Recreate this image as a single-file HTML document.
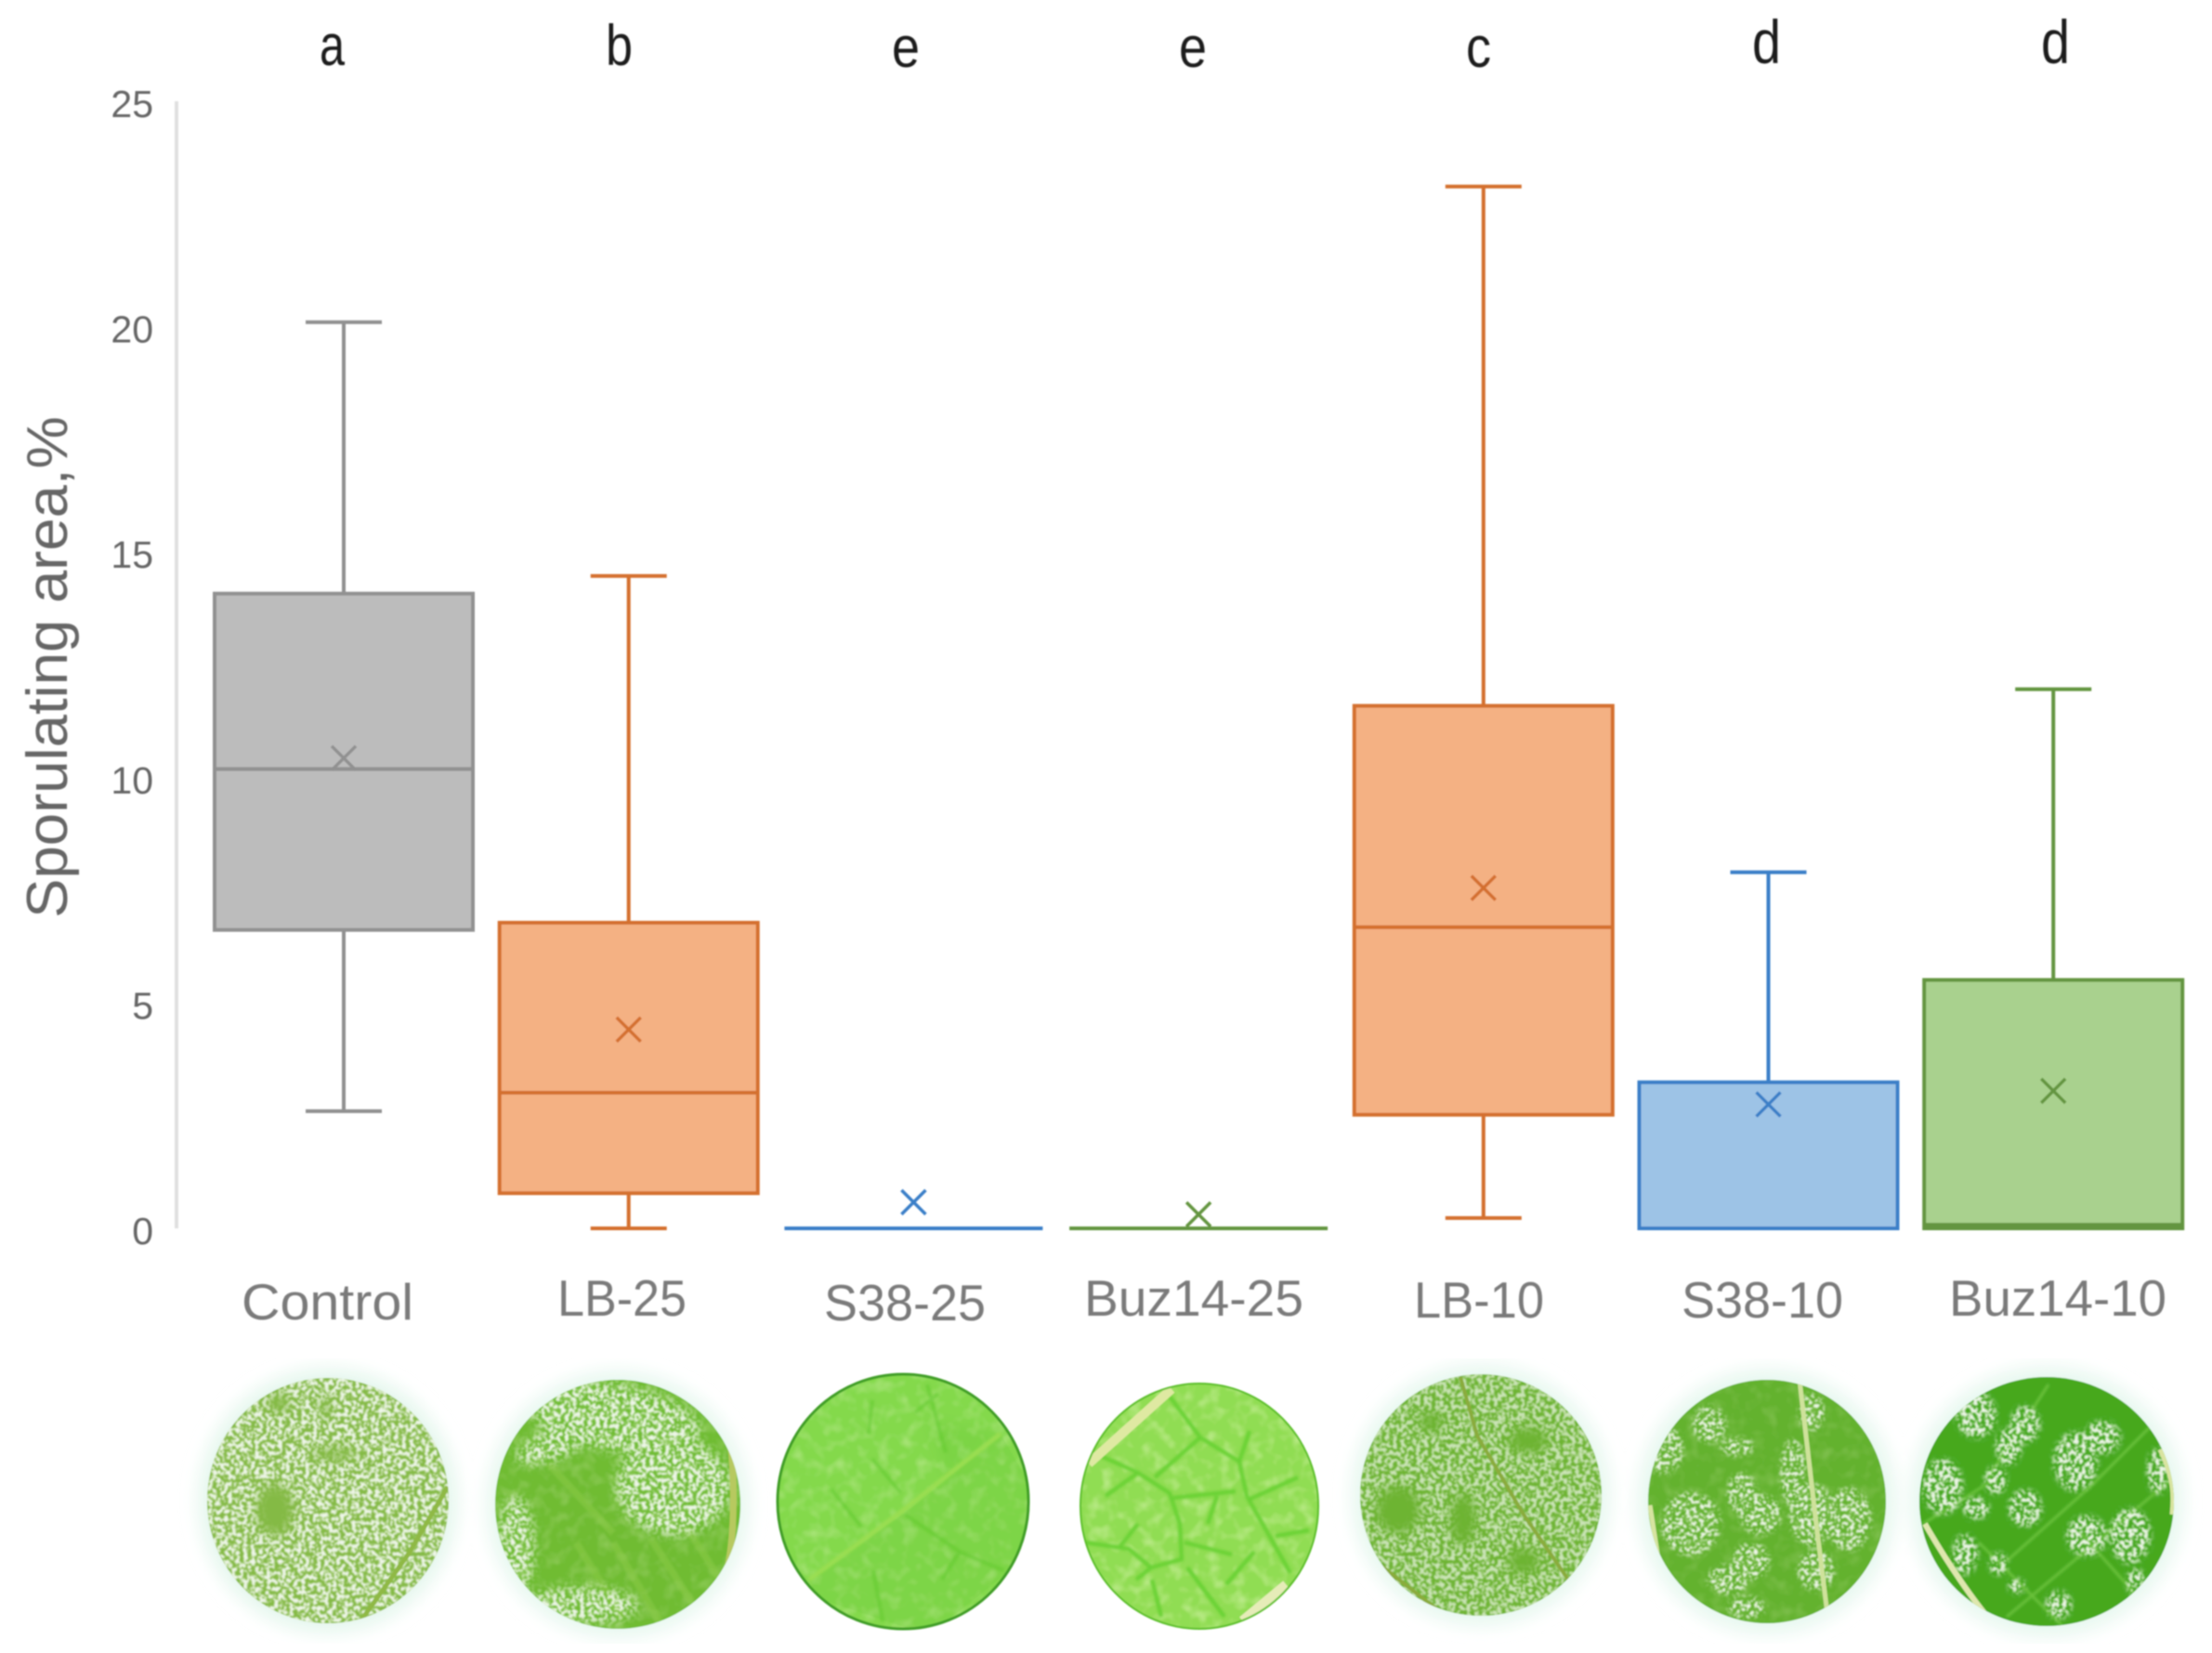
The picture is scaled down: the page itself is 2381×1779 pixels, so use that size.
<!DOCTYPE html>
<html lang="en">
<head>
<meta charset="utf-8">
<title>Sporulating area box plot</title>
<style>
html,body{margin:0;padding:0;background:#fff}
svg{display:block}
text{font-family:"Liberation Sans",sans-serif}
</style>
</head>
<body>
<svg id="chart" xmlns="http://www.w3.org/2000/svg" width="2381" height="1779" viewBox="0 0 2381 1779">
<defs>
<filter id="soft" x="-5%" y="-5%" width="110%" height="110%"><feGaussianBlur stdDeviation="0.9"/></filter>
<filter id="softbig" x="-2%" y="-2%" width="104%" height="104%"><feGaussianBlur stdDeviation="0.8"/></filter>
<filter id="veinblur" x="-5%" y="-5%" width="110%" height="110%"><feGaussianBlur stdDeviation="1.3"/></filter>
<filter id="halo" x="-20%" y="-20%" width="140%" height="140%"><feGaussianBlur stdDeviation="9"/></filter>
<filter id="bl" x="-30%" y="-30%" width="160%" height="160%"><feGaussianBlur stdDeviation="6"/></filter>
<filter id="bl3" x="-50%" y="-50%" width="200%" height="200%"><feGaussianBlur stdDeviation="3"/></filter>
<filter id="mottle" x="0" y="0" width="100%" height="100%">
<feTurbulence type="fractalNoise" baseFrequency="0.07" numOctaves="2" seed="5"/>
<feColorMatrix values="0 0 0 0 1  0 0 0 0 1  0 0 0 0 0.75  1.6 0 0 0 -0.72"/>
</filter>
<filter id="speckDense" x="0" y="0" width="100%" height="100%">
<feTurbulence type="fractalNoise" baseFrequency="0.24" numOctaves="2" seed="3"/>
<feColorMatrix values="0 0 0 0 0.86  0 0 0 0 0.92  0 0 0 0 0.82  7 0 0 0 -3.1"/>
<feGaussianBlur stdDeviation="0.9"/>
</filter>
<filter id="speckMid" x="0" y="0" width="100%" height="100%">
<feTurbulence type="fractalNoise" baseFrequency="0.26" numOctaves="2" seed="11"/>
<feColorMatrix values="0 0 0 0 0.88  0 0 0 0 0.93  0 0 0 0 0.84  8 0 0 0 -3.9"/>
<feGaussianBlur stdDeviation="0.8"/>
</filter>
<filter id="speckSparse" x="0" y="0" width="100%" height="100%">
<feTurbulence type="fractalNoise" baseFrequency="0.28" numOctaves="2" seed="23"/>
<feColorMatrix values="0 0 0 0 0.90  0 0 0 0 0.95  0 0 0 0 0.86  9 0 0 0 -4.6"/>
<feGaussianBlur stdDeviation="0.7"/>
</filter>
<clipPath id="c1"><ellipse cx="353" cy="1615" rx="130" ry="132"/></clipPath>
<clipPath id="c2"><ellipse cx="665" cy="1619" rx="132" ry="134"/></clipPath>
<clipPath id="c3"><ellipse cx="972" cy="1616" rx="135" ry="137"/></clipPath>
<clipPath id="c4"><ellipse cx="1291" cy="1621" rx="128" ry="132"/></clipPath>
<clipPath id="c5"><ellipse cx="1594" cy="1609" rx="130" ry="130"/></clipPath>
<clipPath id="c6"><ellipse cx="1902" cy="1616" rx="128" ry="131"/></clipPath>
<clipPath id="c7"><ellipse cx="2203" cy="1616" rx="137" ry="134"/></clipPath>
<mask id="m1" maskUnits="userSpaceOnUse" x="200" y="1460" width="310" height="310">
<rect x="200" y="1460" width="310" height="310" fill="#fff"/>
<g filter="url(#bl)" fill="#000"><ellipse cx="296" cy="1625" rx="20" ry="28"/><ellipse cx="300" cy="1510" rx="12" ry="10"/><ellipse cx="360" cy="1565" rx="26" ry="6"/><ellipse cx="350" cy="1515" rx="5" ry="14"/></g>
</mask>
<mask id="m2" maskUnits="userSpaceOnUse" x="510" y="1460" width="310" height="310">
<g filter="url(#bl)" fill="#fff"><ellipse cx="660" cy="1525" rx="95" ry="36" transform="rotate(10 660 1525)"/><ellipse cx="725" cy="1600" rx="62" ry="52"/><ellipse cx="555" cy="1665" rx="20" ry="55"/><ellipse cx="625" cy="1728" rx="62" ry="20"/><ellipse cx="595" cy="1555" rx="42" ry="16" transform="rotate(-20 595 1555)"/></g>
</mask>
<mask id="m5" maskUnits="userSpaceOnUse" x="1440" y="1460" width="310" height="310">
<rect x="1440" y="1460" width="310" height="310" fill="#bbb"/>
<g filter="url(#bl)" fill="#000"><ellipse cx="1505" cy="1625" rx="24" ry="26"/><ellipse cx="1575" cy="1635" rx="14" ry="28"/><ellipse cx="1645" cy="1550" rx="22" ry="14"/><ellipse cx="1640" cy="1680" rx="18" ry="14"/><ellipse cx="1540" cy="1530" rx="14" ry="10"/></g>
</mask>
<mask id="m6" maskUnits="userSpaceOnUse" x="1750" y="1460" width="310" height="310">
<g filter="url(#bl3)" fill="#fff"><ellipse cx="1840" cy="1533" rx="18" ry="20"/><ellipse cx="1950" cy="1520" rx="14" ry="20"/><ellipse cx="1790" cy="1560" rx="22" ry="26"/><ellipse cx="1870" cy="1557" rx="18" ry="10"/><ellipse cx="1930" cy="1585" rx="14" ry="36"/><ellipse cx="1875" cy="1607" rx="16" ry="22"/><ellipse cx="1895" cy="1630" rx="22" ry="22"/><ellipse cx="1950" cy="1630" rx="24" ry="34"/><ellipse cx="1990" cy="1635" rx="24" ry="34"/><ellipse cx="1820" cy="1640" rx="32" ry="34"/><ellipse cx="1955" cy="1690" rx="20" ry="22"/><ellipse cx="1885" cy="1680" rx="20" ry="20"/><ellipse cx="1860" cy="1700" rx="22" ry="16"/><ellipse cx="1880" cy="1730" rx="20" ry="12"/></g>
</mask>
<mask id="m7" maskUnits="userSpaceOnUse" x="2050" y="1460" width="310" height="310">
<g filter="url(#bl3)" fill="#fff"><ellipse cx="2127" cy="1523" rx="22" ry="25"/><ellipse cx="2180" cy="1533" rx="16" ry="20"/><ellipse cx="2162" cy="1557" rx="14" ry="20"/><ellipse cx="2263" cy="1547" rx="20" ry="18"/><ellipse cx="2234" cy="1573" rx="24" ry="32"/><ellipse cx="2091" cy="1600" rx="22" ry="30"/><ellipse cx="2148" cy="1593" rx="12" ry="15"/><ellipse cx="2127" cy="1623" rx="14" ry="12"/><ellipse cx="2180" cy="1623" rx="18" ry="20"/><ellipse cx="2246" cy="1653" rx="22" ry="22"/><ellipse cx="2293" cy="1653" rx="22" ry="30"/><ellipse cx="2115" cy="1673" rx="14" ry="22"/><ellipse cx="2151" cy="1683" rx="10" ry="12"/><ellipse cx="2323" cy="1583" rx="12" ry="25"/><ellipse cx="2216" cy="1727" rx="14" ry="15"/><ellipse cx="2299" cy="1703" rx="10" ry="15"/><ellipse cx="2171" cy="1707" rx="9" ry="8"/></g>
</mask>
</defs>

<!-- Leaf discs -->
<g filter="url(#softbig)">
<g>
<ellipse cx="353" cy="1615" rx="140" ry="143" fill="#e6f7ee" filter="url(#halo)"/>
<ellipse cx="353" cy="1615" rx="130" ry="132" fill="#84ba44"/>
<g clip-path="url(#c1)">
<g mask="url(#m1)"><rect x="215" y="1475" width="280" height="280" fill="#fff" filter="url(#speckDense)"/></g>
<path d="M388 1745 L440 1672 L482 1600" fill="none" stroke="#8fb945" stroke-width="5"/>
</g>
</g>
<g>
<ellipse cx="665" cy="1619" rx="142" ry="144" fill="#e8f8f0" filter="url(#halo)"/>
<ellipse cx="665" cy="1619" rx="132" ry="134" fill="#6fbc32"/>
<g clip-path="url(#c2)">
<rect x="530" y="1480" width="270" height="280" fill="#a4d468" opacity=".3" filter="url(#mottle)"/>
<path d="M590 1575 L660 1650 M620 1660 L670 1740 M660 1660 L710 1745 M700 1655 L745 1725 M740 1645 L775 1700" stroke="#8ccb4a" stroke-width="8" fill="none" opacity=".55" filter="url(#veinblur)"/>
<g mask="url(#m2)"><rect x="525" y="1478" width="280" height="280" fill="#fff" filter="url(#speckDense)"/></g>
<path d="M783 1530 C792 1580 792 1660 780 1700" fill="none" stroke="#b7c95f" stroke-width="7"/>
</g>
</g>
<g>
<ellipse cx="972" cy="1616" rx="135" ry="137" fill="#84d94c"/>
<g clip-path="url(#c3)">
<rect x="835" y="1478" width="275" height="278" fill="#b5ec7a" opacity=".4" filter="url(#mottle)"/>
<path d="M871 1700 L985 1620 L1077 1543 L1110 1600 L1100 1680 L1000 1760 L880 1720 Z" fill="#5cc42a" opacity=".18"/>
<path d="M1000 1530 L1077 1543 L1020 1590 Z" fill="#55c024" opacity=".18" filter="url(#bl)"/>
<g fill="none" stroke="#62c92e" stroke-width="4" opacity=".6" filter="url(#veinblur)">
<path d="M998 1490 L1018 1563 M939 1507 L935 1543 M939 1570 L970 1607 M895 1603 L927 1643 M974 1630 L1033 1670 L1014 1700 M940 1690 L950 1745 M1033 1670 L1080 1690 M985 1520 L1010 1500"/>
</g>
<path d="M871 1700 L970 1627 L1077 1543" fill="none" stroke="#9ade51" stroke-width="5" filter="url(#veinblur)"/>
</g>
<ellipse cx="972" cy="1616" rx="135" ry="137" fill="none" stroke="#3f9e27" stroke-width="3"/>
</g>
<g>
<ellipse cx="1291" cy="1621" rx="128" ry="132" fill="#90dd52"/>
<g clip-path="url(#c4)">
<rect x="1160" y="1485" width="262" height="272" fill="#c4f28b" opacity=".55" filter="url(#mottle)"/>
<g fill="none" stroke="#6ad234" stroke-width="4.5" filter="url(#veinblur)">
<path d="M1176 1563 L1225 1585 L1259 1607 L1270 1640 L1272 1680 M1263 1612 L1330 1605 M1259 1503 L1292 1547 L1334 1573 L1342 1610 L1389 1693 M1346 1613 L1397 1590 M1168 1660 L1215 1667 L1239 1687 L1272 1678 M1239 1687 L1223 1700 M1278 1687 L1318 1740 M1275 1660 L1326 1673 M1292 1547 L1243 1590 M1373 1653 L1409 1647 M1190 1610 L1225 1585 M1225 1640 L1205 1665 M1300 1640 L1310 1610 M1345 1540 L1334 1573 M1350 1670 L1320 1705 M1240 1700 L1250 1740"/>
</g>
<path d="M1172 1575 L1261 1495" fill="none" stroke="#dfe9a2" stroke-width="10"/>
<path d="M1338 1745 L1385 1706" fill="none" stroke="#e6ecb8" stroke-width="12"/>
</g>
<ellipse cx="1291" cy="1621" rx="128" ry="132" fill="none" stroke="#5cbf2c" stroke-width="2"/>
</g>
<g>
<ellipse cx="1594" cy="1609" rx="140" ry="141" fill="#e8f8f0" filter="url(#halo)"/>
<ellipse cx="1594" cy="1609" rx="130" ry="130" fill="#6db432"/>
<g clip-path="url(#c5)">
<g mask="url(#m5)"><rect x="1460" y="1475" width="270" height="270" fill="#fff" filter="url(#speckDense)"/></g>
<path d="M1572 1482 L1590 1545 L1640 1630 L1712 1735 M1480 1680 L1570 1750" fill="none" stroke="#8aac3c" stroke-width="4"/>
</g>
</g>
<g>
<ellipse cx="1902" cy="1616" rx="140" ry="143" fill="#e8f8f0" filter="url(#halo)"/>
<ellipse cx="1902" cy="1616" rx="128" ry="131" fill="#63b22e"/>
<g clip-path="url(#c6)">
<rect x="1770" y="1480" width="265" height="270" fill="#8fd053" opacity=".22" filter="url(#mottle)"/>
<g mask="url(#m6)"><rect x="1770" y="1480" width="265" height="270" fill="#fff" filter="url(#speckMid)"/></g>
<path d="M1937 1485 L1955 1640 L1968 1745" fill="none" stroke="#cfe29b" stroke-width="5"/>
<path d="M1776 1620 L1790 1710" fill="none" stroke="#d7e4a0" stroke-width="5"/>
</g>
</g>
<g>
<ellipse cx="2203" cy="1616" rx="148" ry="146" fill="#e8f8f0" filter="url(#halo)"/>
<ellipse cx="2203" cy="1616" rx="137" ry="134" fill="#46a81f"/>
<g clip-path="url(#c7)">
<g fill="none" stroke="#6bc13a" stroke-width="3" filter="url(#veinblur)">
<path d="M2140 1590 L2205 1490 M2070 1640 L2150 1590 M2160 1680 L2250 1600 L2320 1530 M2160 1740 L2280 1640 L2340 1590 M2130 1660 L2220 1750 M2240 1650 L2320 1740"/>
</g>
<g mask="url(#m7)"><rect x="2060" y="1478" width="285" height="275" fill="#fff" filter="url(#speckDense)"/></g>
<path d="M2072 1640 C2095 1680 2125 1725 2148 1750" fill="none" stroke="#dfe7ae" stroke-width="6"/>
<path d="M2325 1560 C2340 1590 2340 1610 2338 1630" fill="none" stroke="#d9e4a0" stroke-width="5"/>
</g>
</g>
</g>

<!-- Static labels -->
<g filter="url(#soft)" fill="#1f1f1f" font-size="62">
<text x="344" y="70" textLength="27" lengthAdjust="spacingAndGlyphs">a</text>
<text x="652" y="70" textLength="29" lengthAdjust="spacingAndGlyphs">b</text>
<text x="960" y="72" textLength="30" lengthAdjust="spacingAndGlyphs">e</text>
<text x="1269" y="72" textLength="30" lengthAdjust="spacingAndGlyphs">e</text>
<text x="1578" y="72" textLength="27" lengthAdjust="spacingAndGlyphs">c</text>
<text x="1886" y="68" textLength="31" lengthAdjust="spacingAndGlyphs" font-size="66">d</text>
<text x="2197" y="68" textLength="31" lengthAdjust="spacingAndGlyphs" font-size="66">d</text>
</g>
<g filter="url(#soft)" fill="#7a7a7a" font-size="55">
<text x="260" y="1420" textLength="185" lengthAdjust="spacingAndGlyphs">Control</text>
<text x="600" y="1416" textLength="139" lengthAdjust="spacingAndGlyphs">LB-25</text>
<text x="887" y="1421" textLength="174" lengthAdjust="spacingAndGlyphs">S38-25</text>
<text x="1167" y="1416" textLength="236" lengthAdjust="spacingAndGlyphs">Buz14-25</text>
<text x="1522" y="1418" textLength="140" lengthAdjust="spacingAndGlyphs">LB-10</text>
<text x="1810" y="1418" textLength="174" lengthAdjust="spacingAndGlyphs">S38-10</text>
<text x="2098" y="1416" textLength="234" lengthAdjust="spacingAndGlyphs">Buz14-10</text>
</g>
<text filter="url(#soft)" transform="translate(72 718) rotate(-90)" text-anchor="middle" font-size="62" fill="#666" textLength="540" lengthAdjust="spacingAndGlyphs">Sporulating area,%</text>

<g id="axis-layer" filter="url(#soft)"></g>
<g id="plot-layer" filter="url(#softbig)"></g>
</svg>

<script>
const categories = ['Control', 'LB-25', 'S38-25', 'Buz14-25', 'LB-10', 'S38-10', 'Buz14-10'];
const whiskerHigh = [20.10, 14.47, 0, 0, 23.11, 7.90, 11.96];
const quartile3 = [14.08, 6.78, 0, 0, 11.59, 3.24, 5.51];
const medians = [10.19, 3.01, 0, 0, 6.68, 0, 0.08];
const quartile1 = [6.62, 0.78, 0, 0, 2.52, 0, 0];
const whiskerLow = [2.60, 0, 0, 0, 0.23, 0, 0];
const means = [10.43, 4.41, 0.58, 0.31, 7.55, 2.75, 3.05];
const seriesKind = ['grey', 'orange', 'blue', 'green', 'orange', 'blue', 'green'];
const tickValues = [0, 5, 10, 15, 20, 25];
const tickLabels = ['0', '5', '10', '15', '20', '25'];

const palette = {
  grey: { fill: '#bcbcbc', stroke: '#919191' },
  orange: { fill: '#f4b183', stroke: '#d4702f' },
  blue: { fill: '#9dc3e6', stroke: '#3b7fc8' },
  green: { fill: '#a9d18e', stroke: '#64953f' }
};

const NS = 'http://www.w3.org/2000/svg';
const Y_ZERO = 1322, Y_TOP = 109, Y_MAX = 25;
const X_FIRST = 370, X_STEP = 306.7;
const BOX_W = 278, CAP_W = 82, MARK = 13;

function yScale(v) { return Y_ZERO - (v / Y_MAX) * (Y_ZERO - Y_TOP); }
function xScale(i) { return X_FIRST + X_STEP * i; }

function make(tag, props, parent) {
  const el = document.createElementNS(NS, tag);
  for (const k in props) el.setAttribute(k, props[k]);
  parent.appendChild(el);
  return el;
}

const axisLayer = document.getElementById('axis-layer');
const plotLayer = document.getElementById('plot-layer');

const axisLine = make('line', { x1: 190, x2: 190, y1: yScale(Y_MAX), y2: yScale(0), stroke: '#e0e0e0', 'stroke-width': 4 }, axisLayer);



tickValues.forEach(function (v, i) {
  const t = make('text', { x: 165, y: yScale(v) + 17, 'text-anchor': 'end', 'font-size': 41, fill: '#666' }, axisLayer);
  t.textContent = tickLabels[i];
  
  
});

categories.forEach(function (name, i) {
  const c = palette[seriesKind[i]];
  const x = xScale(i);
  const slug = name.toLowerCase();
  const g = make('g', { stroke: c.stroke, fill: 'none', 'stroke-width': 4 }, plotLayer);
  
  

  const upper = make('line', { x1: x, x2: x, y1: yScale(whiskerHigh[i]), y2: yScale(quartile3[i]) }, g);
  
  

  const lower = make('line', { x1: x, x2: x, y1: yScale(quartile1[i]), y2: yScale(whiskerLow[i]) }, g);
  
  

  const capHigh = make('line', { x1: x - CAP_W / 2, x2: x + CAP_W / 2, y1: yScale(whiskerHigh[i]), y2: yScale(whiskerHigh[i]) }, g);
  
  

  const capLow = make('line', { x1: x - CAP_W / 2, x2: x + CAP_W / 2, y1: yScale(whiskerLow[i]), y2: yScale(whiskerLow[i]) }, g);
  
  

  const box = make('rect', { x: x - BOX_W / 2, y: yScale(quartile3[i]), width: BOX_W, height: yScale(quartile1[i]) - yScale(quartile3[i]), fill: c.fill }, g);
  
  

  const med = make('line', { x1: x - BOX_W / 2, x2: x + BOX_W / 2, y1: yScale(medians[i]), y2: yScale(medians[i]) }, g);
  
  

  const my = yScale(means[i]);
  const mean = make('path', { d: 'M' + (x - MARK) + ' ' + (my - MARK) + 'L' + (x + MARK) + ' ' + (my + MARK) + 'M' + (x + MARK) + ' ' + (my - MARK) + 'L' + (x - MARK) + ' ' + (my + MARK), 'stroke-width': 3.5 }, g);
  
  
});
</script>
</body>
</html>
